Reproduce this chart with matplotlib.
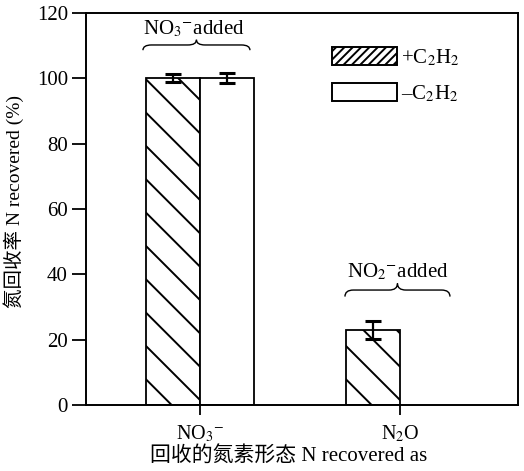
import matplotlib
matplotlib.use("Agg")
import matplotlib.pyplot as plt
from matplotlib.patches import Patch, PathPatch
from matplotlib.path import Path
import numpy as np

plt.rcParams['font.family'] = ['Liberation Serif', 'Noto Sans CJK SC']
plt.rcParams['mathtext.fontset'] = 'stix'
plt.rcParams['hatch.linewidth'] = 1.4

categories = [r'NO$_3$$^{-}$', r'N$_2$O']
series_labels = [r'+C$_2$H$_2$', r'–C$_2$H$_2$']
plus_c2h2 = [100, 23]
plus_err = [1.2, 2.7]
minus_c2h2 = [100, 0]
minus_err = [1.5, 0]
group_labels = [r'NO$_3$$^{-}$added', r'NO$_2$$^{-}$added']
yticks = [0, 20, 40, 60, 80, 100, 120]

fig = plt.figure(figsize=(5.24, 4.71), dpi=100)
ax = fig.add_axes([0.164, 0.140, 0.8245, 0.8325])

x = np.arange(len(categories))
w = 0.27
ekw = dict(elinewidth=1.6, capthick=2.2, capsize=6, ecolor='black')

# hatched bars (+C2H2)
ax.bar(x - w/2, plus_c2h2, width=w, facecolor='white', edgecolor='black',
       hatch='\\', linewidth=1.3, zorder=2)
ax.errorbar(x - w/2, plus_c2h2, yerr=plus_err, fmt='none', zorder=3, **ekw)
# white bars (-C2H2), only where present
for xi, v, e in zip(x, minus_c2h2, minus_err):
    if v > 0:
        ax.bar(xi + w/2, v, width=w, facecolor='white', edgecolor='black',
               linewidth=1.3, zorder=2)
        ax.errorbar(xi + w/2, v, yerr=e, fmt='none', zorder=3, **ekw)

ax.set_xlim(-0.57, 1.59)
ax.set_ylim(0, 120)
ax.set_yticks(yticks)
ax.set_xticks(x)
ax.set_xticklabels(categories, fontsize=14.5)
ax.tick_params(axis='y', direction='out', length=10, width=1.3, labelsize=15, pad=3)
ax.tick_params(axis='x', direction='out', length=7, width=1.3, pad=6)
for s in ax.spines.values():
    s.set_linewidth(1.4)

ax.set_ylabel('氮回收率 N recovered (%)', fontsize=14)
ax.yaxis.set_label_coords(-0.143, 0.52)
ax.set_xlabel('回收的氮素形态 N recovered as', fontsize=15)
ax.xaxis.set_label_coords(0.47, -0.105)


def brace(ax, x0, x1, y, h):
    xm = (x0 + x1) / 2
    r = (x1 - x0) * 0.08
    verts = [(x0, y - h), (x0, y), (x0 + r, y),
             (xm - r, y), (xm, y), (xm, y + h),
             (xm, y), (xm + r, y),
             (x1 - r, y), (x1, y), (x1, y - h)]
    codes = [Path.MOVETO, Path.CURVE3, Path.CURVE3,
             Path.LINETO, Path.CURVE3, Path.CURVE3,
             Path.CURVE3, Path.CURVE3,
             Path.LINETO, Path.CURVE3, Path.CURVE3]
    ax.add_patch(PathPatch(Path(verts, codes), facecolor='none',
                           edgecolor='black', linewidth=1.0, zorder=4))

# group braces
brace(ax, -0.285, 0.25, 110.2, 1.6)
ax.text(-0.03, 112.0, group_labels[0], ha='center', va='bottom', fontsize=15)
brace(ax, 0.725, 1.25, 35.2, 2.0)
ax.text(0.99, 37.6, group_labels[1], ha='center', va='bottom', fontsize=15)

handles = [Patch(facecolor='white', edgecolor='black', hatch='////', linewidth=1.4),
           Patch(facecolor='white', edgecolor='black', linewidth=1.4)]
ax.legend(handles, series_labels, loc='upper left', bbox_to_anchor=(0.527, 0.96),
          frameon=False, fontsize=15, handlelength=3.1, handleheight=0.95,
          labelspacing=0.7, handletextpad=0.2)

fig.savefig('out.png', dpi=100)
